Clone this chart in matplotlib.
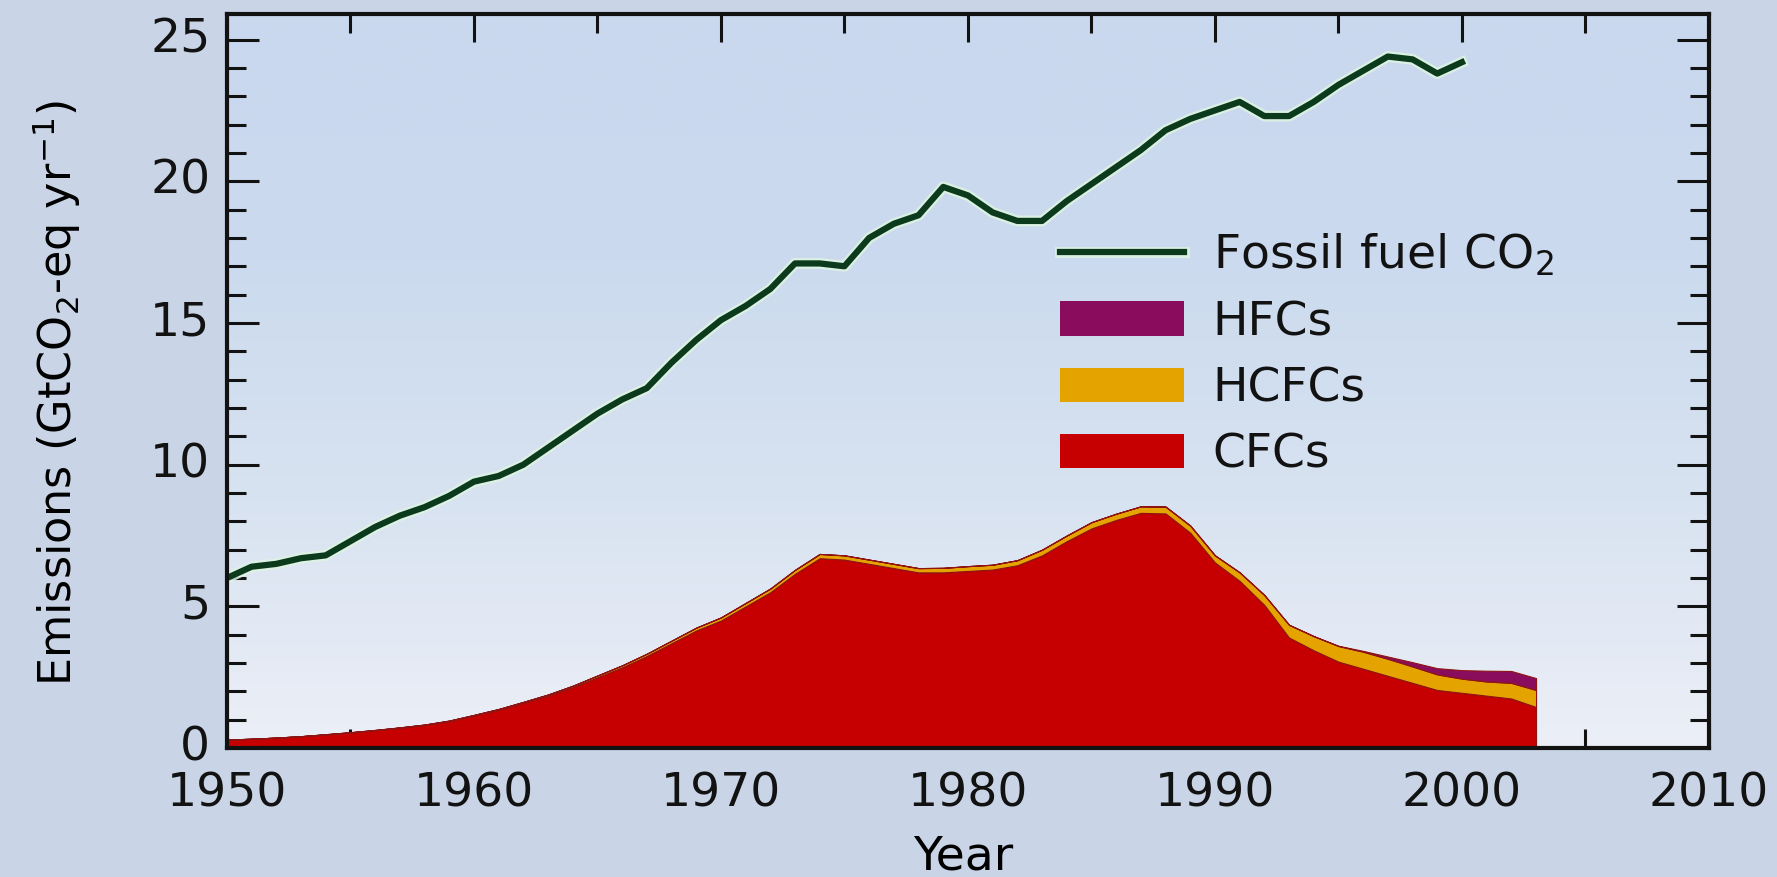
import numpy as np
import matplotlib
matplotlib.use("Agg")
import matplotlib.pyplot as plt
from matplotlib.lines import Line2D
from matplotlib.patches import Patch
from matplotlib.ticker import MultipleLocator
from matplotlib.colors import LinearSegmentedColormap
import matplotlib.patheffects as pe
import matplotlib.transforms as mtransforms

# ---------------- data ----------------
years_co2 = list(range(1950, 2001))
fossil_co2 = [6.0, 6.4, 6.5, 6.7, 6.8, 7.3, 7.8, 8.2, 8.5, 8.9,
              9.4, 9.6, 10.0, 10.6, 11.2, 11.8, 12.3, 12.7, 13.6, 14.4,
              15.1, 15.6, 16.2, 17.1, 17.1, 17.0, 18.0, 18.5, 18.8, 19.8,
              19.5, 18.9, 18.6, 18.6, 19.3, 19.9, 20.5, 21.1, 21.8, 22.2,
              22.5, 22.8, 22.3, 22.3, 22.8, 23.4, 23.9, 24.4, 24.3, 23.8,
              24.2]

years_gas = list(range(1950, 2004))
cfcs = [0.30, 0.33, 0.37, 0.42, 0.48, 0.55, 0.63, 0.72, 0.82, 0.95,
        1.15, 1.35, 1.60, 1.85, 2.15, 2.50, 2.85, 3.25, 3.70, 4.15,
        4.50, 5.00, 5.50, 6.15, 6.70, 6.65, 6.50, 6.35, 6.20, 6.20,
        6.25, 6.30, 6.45, 6.80, 7.30, 7.75, 8.05, 8.30, 8.28, 7.60,
        6.55, 5.90, 5.05, 3.90, 3.45, 3.05, 2.80, 2.55, 2.30, 2.05,
        1.95, 1.85, 1.75, 1.45]
hcfcs = [0.00, 0.00, 0.00, 0.00, 0.01, 0.01, 0.01, 0.01, 0.01, 0.02,
         0.02, 0.03, 0.03, 0.04, 0.05, 0.06, 0.07, 0.08, 0.09, 0.10,
         0.11, 0.12, 0.13, 0.14, 0.15, 0.15, 0.15, 0.15, 0.15, 0.16,
         0.17, 0.17, 0.18, 0.20, 0.20, 0.22, 0.22, 0.23, 0.24, 0.25,
         0.25, 0.30, 0.35, 0.45, 0.50, 0.55, 0.60, 0.60, 0.58, 0.55,
         0.50, 0.50, 0.55, 0.60]
hfcs = [0.00, 0.00, 0.00, 0.00, 0.00, 0.00, 0.00, 0.00, 0.00, 0.00,
        0.00, 0.00, 0.00, 0.00, 0.00, 0.00, 0.00, 0.00, 0.00, 0.00,
        0.00, 0.00, 0.00, 0.00, 0.00, 0.00, 0.00, 0.00, 0.00, 0.00,
        0.00, 0.00, 0.00, 0.00, 0.00, 0.00, 0.00, 0.00, 0.00, 0.00,
        0.00, 0.00, 0.00, 0.00, 0.00, 0.01, 0.03, 0.08, 0.15, 0.22,
        0.30, 0.38, 0.42, 0.42]

series_labels = ["Fossil fuel CO$_2$", "HFCs", "HCFCs", "CFCs"]
x_ticks = [1950, 1960, 1970, 1980, 1990, 2000, 2010]
y_ticks = [0, 5, 10, 15, 20, 25]

# ---------------- style ----------------
co2_color = "#0c3a1d"
halo_color = "#def5e2"
cfc_color = "#c60000"
hcfc_color = "#e5a300"
hfc_color = "#8a0c5c"
ink = "#121212"

plt.rcParams["font.family"] = ["DejaVu Sans"]
plt.rcParams["mathtext.fontset"] = "dejavusans"
plt.rcParams["text.color"] = ink

fig = plt.figure(figsize=(17.77, 8.77), dpi=100, facecolor="#c9d5e6")
ax = fig.add_axes([0.1277, 0.147, 0.834, 0.837])

# soft background gradient inside the plot area
grad = np.linspace(0, 1, 256).reshape(-1, 1)
bg_cmap = LinearSegmentedColormap.from_list("bg", ["#eceff7", "#d8e3f1", "#cbdaee", "#c9d8ee"])
ax.imshow(grad, extent=[0, 1, 0, 1], transform=ax.transAxes, cmap=bg_cmap,
          aspect="auto", origin="lower", zorder=0, interpolation="bicubic")

ax.stackplot(years_gas, cfcs, hcfcs, hfcs,
             colors=[cfc_color, hcfc_color, hfc_color],
             edgecolor="#8e1414", linewidth=0.8, zorder=2)

ax.plot(years_co2, fossil_co2, color=co2_color, lw=4.5, zorder=5,
        solid_joinstyle="round",
        path_effects=[pe.Stroke(linewidth=7.8, foreground=halo_color, alpha=0.85),
                      pe.Normal()])

ax.set_xlim(1950, 2010)
ax.set_ylim(0, 25.9)
ax.set_xticks(x_ticks)
ax.set_yticks(y_ticks)
ax.xaxis.set_minor_locator(MultipleLocator(5))
ax.yaxis.set_minor_locator(MultipleLocator(1))

ax.tick_params(which="both", direction="in", top=True, right=True,
               width=2.2, color=ink, labelcolor=ink)
ax.tick_params(axis="x", which="major", length=20, labelsize=34, pad=17)
ax.tick_params(axis="x", which="minor", length=14)
ax.tick_params(axis="y", which="major", length=23, labelsize=34, pad=12)
ax.tick_params(axis="y", which="minor", length=14)

# nudge y tick labels up slightly (as in the original)
shift = mtransforms.ScaledTranslation(0, 5 / 100, fig.dpi_scale_trans)
for lbl in ax.get_yticklabels():
    lbl.set_transform(lbl.get_transform() + shift)

for sp in ax.spines.values():
    sp.set_linewidth(3)
    sp.set_color(ink)
    sp.set_zorder(6)

ax.set_ylabel("Emissions (GtCO$_2$-eq yr$^{-1}$)", fontsize=32)
ax.yaxis.set_label_coords(-0.097, 0.483)
ax.set_xlabel("Year", fontsize=34)
ax.xaxis.set_label_coords(0.497, -0.118)

handles = [
    Line2D([], [], color=co2_color, lw=4.5,
           path_effects=[pe.Stroke(linewidth=7.8, foreground=halo_color, alpha=0.85), pe.Normal()]),
    Patch(facecolor=hfc_color, edgecolor="none"),
    Patch(facecolor=hcfc_color, edgecolor="none"),
    Patch(facecolor=cfc_color, edgecolor="none"),
]
ax.legend(handles, series_labels, loc="upper left", bbox_to_anchor=(0.5965, 0.735),
          bbox_transform=fig.transFigure, frameon=False, fontsize=34,
          handlelength=2.63, handleheight=0.75, handletextpad=0.6,
          labelspacing=0.45, borderpad=0, borderaxespad=0)

fig.savefig("out.png", dpi=100, facecolor=fig.get_facecolor())
